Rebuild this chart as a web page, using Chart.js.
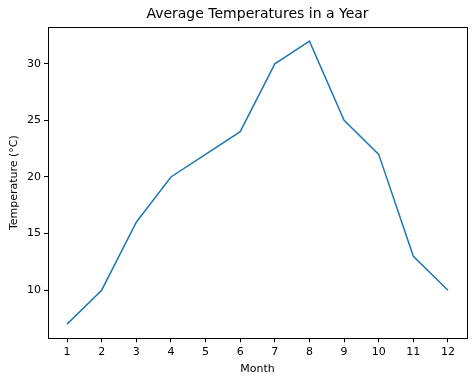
<!DOCTYPE html>
<html><head><meta charset="utf-8">
<script src="https://cdn.jsdelivr.net/npm/chart.js@4"></script>
<style>html,body{margin:0;padding:0;background:#fff}#w{width:474px;height:383px}</style>
</head><body><div id="w"><canvas id="c" width="474" height="383"></canvas></div>
<script>
const months = [1,2,3,4,5,6,7,8,9,10,11,12];
const temps = [7,10,16,20,22,24,30,32,25,22,13,10];
const xTicks = [1,2,3,4,5,6,7,8,9,10,11,12];
const yTicks = [10,15,20,25,30];
const FONT = "'DejaVu Sans', sans-serif";

const boxPlugin = {
  id: 'box',
  afterDraw(chart){
    const a = chart.chartArea, ctx = chart.ctx;
    ctx.save(); ctx.strokeStyle='#000'; ctx.lineWidth=1;
    ctx.strokeRect(Math.round(a.left)+0.5, Math.round(a.top)+0.5, Math.round(a.right-a.left), Math.round(a.bottom-a.top));
    ctx.restore();
  }
};

new Chart(document.getElementById('c'), {
  type: 'line',
  data: { datasets: [{ data: months.map((m,i)=>({x:m,y:temps[i]})), borderColor:'#1f77b4', borderWidth:1.5, pointRadius:0, tension:0, fill:false }] },
  options: {
    responsive:false, animation:false,
    layout:{ padding:{ left:0, right:7, top:0, bottom:0 } },
    plugins:{
      legend:{display:false}, tooltip:{enabled:false},
      title:{ display:true, fullSize:false, text:'Average Temperatures in a Year', color:'#000', font:{family:FONT, size:14, weight:'normal', lineHeight:1.2}, padding:{top:6, bottom:4.2} }
    },
    scales:{
      x:{ type:'linear', min:0.45, max:12.55,
        afterBuildTicks(s){ s.ticks = xTicks.map(v=>({value:v})); },
        afterFit(s){ s.height = 44.7; },
        grid:{ drawOnChartArea:false, drawTicks:true, tickLength:4, color:'#000' },
        border:{ display:true, color:'#000' },
        ticks:{ color:'#000', font:{family:FONT, size:11}, padding:3, maxRotation:0, autoSkip:false },
        title:{ display:true, text:'Month', color:'#000', font:{family:FONT, size:11}, padding:{top:2,bottom:7} }
      },
      y:{ type:'linear', min:5.75, max:33.25,
        afterBuildTicks(s){ s.ticks = yTicks.map(v=>({value:v})); },
        afterFit(s){ s.width = 48; },
        grid:{ drawOnChartArea:false, drawTicks:true, tickLength:4, color:'#000' },
        border:{ display:true, color:'#000' },
        ticks:{ color:'#000', font:{family:FONT, size:11}, padding:3 },
        title:{ display:true, text:'Temperature (°C)', color:'#000', font:{family:FONT, size:11}, padding:{top:8,bottom:2} }
      }
    }
  },
  plugins:[boxPlugin]
});
</script></body></html>
